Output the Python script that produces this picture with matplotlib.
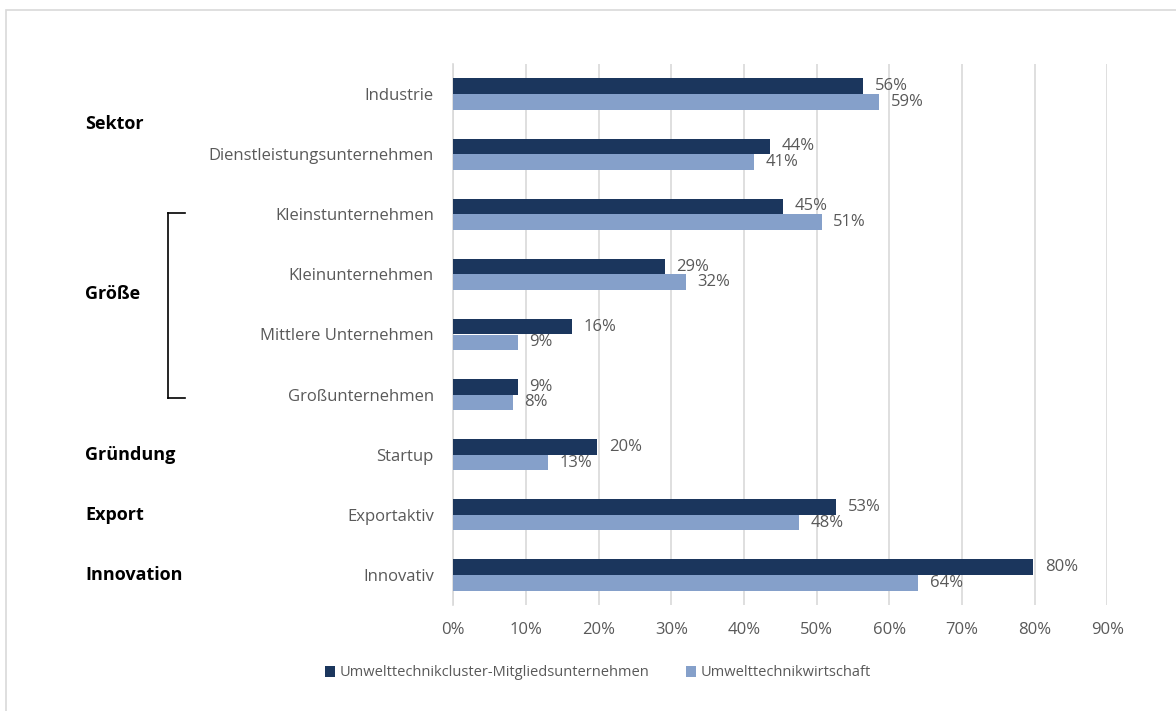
import matplotlib
matplotlib.use("Agg")
import matplotlib.pyplot as plt
from matplotlib.patches import Rectangle
from matplotlib.lines import Line2D
import matplotlib.transforms as mtransforms
import numpy as np

categories = ["Industrie", "Dienstleistungsunternehmen", "Kleinstunternehmen",
              "Kleinunternehmen", "Mittlere Unternehmen", "Großunternehmen",
              "Startup", "Exportaktiv", "Innovativ"]
cluster = [56.4, 43.6, 45.4, 29.1, 16.4, 8.9, 19.8, 52.7, 79.8]
wirtschaft = [58.6, 41.4, 50.7, 32.0, 8.9, 8.2, 13.0, 47.6, 64.0]
series_names = ["Umwelttechnikcluster-Mitgliedsunternehmen", "Umwelttechnikwirtschaft"]
groups = [("Sektor", 0.5), ("Größe", 3.32), ("Gründung", 6.0), ("Export", 7.0), ("Innovation", 8.0)]
xticks = [0, 10, 20, 30, 40, 50, 60, 70, 80, 90]

FONT = "Open Sans"
plt.rcParams['font.family'] = [FONT, 'DejaVu Sans']
dark = "#1b365d"
light = "#85a0ca"
gray = "#595959"
FS = 12

W, H = 1176, 711
fig = plt.figure(figsize=(W / 100, H / 100), dpi=100)
fig.patch.set_facecolor("white")
fig.patches.append(Rectangle((6 / W, -0.1), 1.2, (1 - 10 / H) + 0.1,
                             transform=fig.transFigure, fill=False,
                             edgecolor="#d9d9d9", linewidth=1.2))

ax = fig.add_axes([453.3 / W, 1 - 605 / H, (1107.3 - 453.3) / W, (605 - 64) / H])
y = np.arange(len(categories))
h = 0.26
b1 = ax.barh(y - h / 2, cluster, height=h, color=dark, label=series_names[0], zorder=3)
b2 = ax.barh(y + h / 2, wirtschaft, height=h, color=light, label=series_names[1], zorder=3)

for bars, vals in ((b1, cluster), (b2, wirtschaft)):
    for rect, v in zip(bars, vals):
        ax.annotate(f"{round(v):d}%", (rect.get_width(), rect.get_y() + rect.get_height() / 2),
                    xytext=(8.3, 0), textcoords="offset points", ha="left", va="center",
                    fontsize=FS, color=gray, zorder=4)

ax.set_xlim(0, 90)
ax.set_ylim(len(categories) - 0.5, -0.5)
ax.set_xticks(xticks)
ax.set_xticklabels([f"{t}%" for t in xticks], fontsize=FS, color=gray)
ax.set_yticks(y)
ax.set_yticklabels(categories, fontsize=FS, color=gray)
ax.tick_params(axis="both", length=0)
ax.tick_params(axis="y", pad=14)
ax.tick_params(axis="x", pad=12.5)
ax.grid(axis="x", color="#d9d9d9", linewidth=1.2, zorder=0)
for s in ["top", "right", "bottom"]:
    ax.spines[s].set_visible(False)
ax.spines["left"].set_color("#d9d9d9")
ax.spines["left"].set_linewidth(1.2)

trans = mtransforms.blended_transform_factory(fig.transFigure, ax.transData)
for name, pos in groups:
    ax.text(85 / W, pos, name, transform=trans, ha="left", va="center",
            fontsize=13, fontweight="bold", color="black")

# bracket for Größe
yt, yb = 2 - 0.02, 5 + 0.05
x0, x1 = 168 / W, 185 / W
for xs, ys in (([x1, x0], [yt, yt]), ([x0, x0], [yt, yb]), ([x0, x1], [yb, yb])):
    ax.add_line(Line2D(xs, ys, transform=trans, color="black", linewidth=1.2, clip_on=False))

leg = fig.legend(handles=[b1, b2], labels=series_names, loc="center",
                 bbox_to_anchor=(598 / W, 1 - 673 / H), ncol=2, frameon=False,
                 fontsize=10.5, handlelength=0.7, handleheight=0.7, handletextpad=0.3,
                 columnspacing=2.5, labelcolor=gray)

fig.savefig("out.png", dpi=100)
